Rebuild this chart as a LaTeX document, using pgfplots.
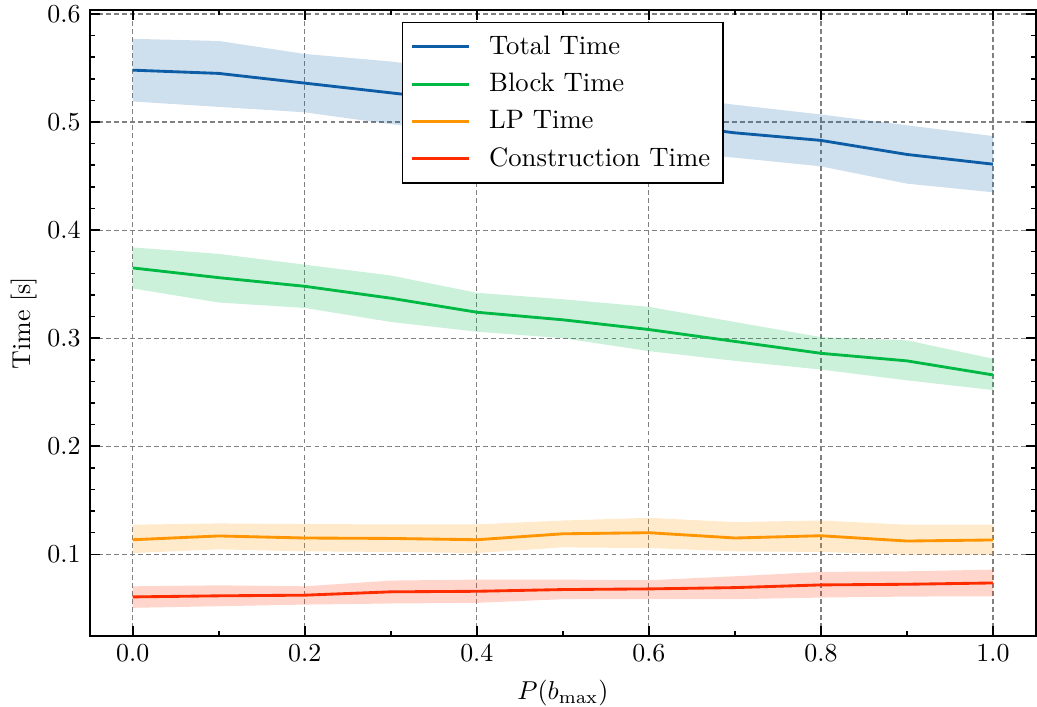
\documentclass[border=0pt]{standalone}
\usepackage{pgfplots}
\usepackage{pgfplotstable}
\pgfplotsset{compat=1.18}
\usepgfplotslibrary{fillbetween}

\definecolor{sblue}{HTML}{0C5DA5}
\definecolor{sgreen}{HTML}{00B945}
\definecolor{sorange}{HTML}{FF9500}
\definecolor{sred}{HTML}{FF2C00}

% mean, lower and upper edge of the shaded band
\pgfplotstableread{
x    mean   lo     hi
0.0  0.548  0.519  0.577
0.1  0.545  0.514  0.575
0.2  0.536  0.509  0.563
0.3  0.527  0.498  0.556
0.4  0.518  0.490  0.546
0.5  0.509  0.482  0.536
0.6  0.500  0.474  0.526
0.7  0.490  0.467  0.516
0.8  0.483  0.459  0.507
0.9  0.470  0.443  0.497
1.0  0.461  0.435  0.487
}\totaltime

\pgfplotstableread{
x    mean   lo     hi
0.0  0.365  0.346  0.384
0.1  0.356  0.333  0.378
0.2  0.348  0.328  0.368
0.3  0.337  0.315  0.358
0.4  0.324  0.306  0.342
0.5  0.317  0.300  0.336
0.6  0.308  0.288  0.329
0.7  0.297  0.279  0.315
0.8  0.286  0.271  0.301
0.9  0.279  0.261  0.298
1.0  0.266  0.252  0.281
}\blocktime

\pgfplotstableread{
x    mean   lo     hi
0.0  0.1135 0.1012 0.1274
0.1  0.1170 0.1046 0.1286
0.2  0.1151 0.1028 0.1280
0.3  0.1147 0.1022 0.1277
0.4  0.1135 0.1012 0.1277
0.5  0.1190 0.1064 0.1313
0.6  0.1200 0.1058 0.1338
0.7  0.1151 0.1028 0.1298
0.8  0.1172 0.1022 0.1313
0.9  0.1123 0.0997 0.1274
1.0  0.1133 0.0997 0.1274
}\lptime

\pgfplotstableread{
x    mean   lo     hi
0.0  0.0606 0.0505 0.0704
0.1  0.0616 0.0520 0.0713
0.2  0.0622 0.0535 0.0704
0.3  0.0653 0.0545 0.0757
0.4  0.0658 0.0551 0.0766
0.5  0.0674 0.0585 0.0766
0.6  0.0680 0.0585 0.0760
0.7  0.0692 0.0585 0.0797
0.8  0.0717 0.0600 0.0837
0.9  0.0723 0.0609 0.0843
1.0  0.0735 0.0612 0.0858
}\constime

\begin{document}
\begin{tikzpicture}
\begin{axis}[
    scale only axis,
    width=365.4pt, height=241.8pt,
    xmin=-0.05, xmax=1.05, ymin=0.0243, ymax=0.6037,
    xtick={0,0.2,0.4,0.6,0.8,1.0},
    ytick={0.1,0.2,0.3,0.4,0.5,0.6},
    minor x tick num=1, minor y tick num=4,
    xticklabel style={/pgf/number format/.cd, fixed, fixed zerofill, precision=1},
    yticklabel style={/pgf/number format/.cd, fixed, fixed zerofill, precision=1},
    tick align=inside,
    major tick length=3.85pt, minor tick length=1.9pt,
    tick style={black, line width=0.6pt},
    axis line style={line width=0.75pt},
    grid=major,
    major grid style={black!50, line width=0.45pt, dash pattern=on 1.9pt off 1.2pt},
    xlabel={$P(b_{\max})$}, ylabel={Time [s]},
    ylabel style={yshift=-2.7pt},
    legend style={at={(0.5,0.981)}, anchor=north, draw=black, line width=0.6pt,
        fill=white, row sep=1.8pt, inner xsep=3pt, inner ysep=3pt,
        font=\fontsize{10.3}{12.4}\selectfont, cells={anchor=west}},
    legend image code/.code={\draw[#1] (0cm,0cm) -- (0.78cm,0cm); \path (0.96cm,0cm);},
]
\addplot[name path=tu, draw=none, forget plot] table[x=x, y=hi] {\totaltime};
\addplot[name path=tl, draw=none, forget plot] table[x=x, y=lo] {\totaltime};
\addplot[fill=sblue, fill opacity=0.2, draw=none, forget plot] fill between[of=tu and tl];
\addplot[sblue, line width=1.1pt] table[x=x, y=mean] {\totaltime};
\addlegendentry{Total Time}

\addplot[name path=bu, draw=none, forget plot] table[x=x, y=hi] {\blocktime};
\addplot[name path=bl, draw=none, forget plot] table[x=x, y=lo] {\blocktime};
\addplot[fill=sgreen, fill opacity=0.2, draw=none, forget plot] fill between[of=bu and bl];
\addplot[sgreen, line width=1.1pt] table[x=x, y=mean] {\blocktime};
\addlegendentry{Block Time}

\addplot[name path=lu, draw=none, forget plot] table[x=x, y=hi] {\lptime};
\addplot[name path=ll, draw=none, forget plot] table[x=x, y=lo] {\lptime};
\addplot[fill=sorange, fill opacity=0.2, draw=none, forget plot] fill between[of=lu and ll];
\addplot[sorange, line width=1.1pt] table[x=x, y=mean] {\lptime};
\addlegendentry{LP Time}

\addplot[name path=cu, draw=none, forget plot] table[x=x, y=hi] {\constime};
\addplot[name path=cl, draw=none, forget plot] table[x=x, y=lo] {\constime};
\addplot[fill=sred, fill opacity=0.2, draw=none, forget plot] fill between[of=cu and cl];
\addplot[sred, line width=1.1pt] table[x=x, y=mean] {\constime};
\addlegendentry{Construction Time}
\end{axis}
\pgfresetboundingbox
\path[use as bounding box] ([xshift=-34.65pt, yshift=-27.3pt]current axis.south west)
    rectangle ([xshift=0.4pt, yshift=3.85pt]current axis.north east);
\end{tikzpicture}
\end{document}
